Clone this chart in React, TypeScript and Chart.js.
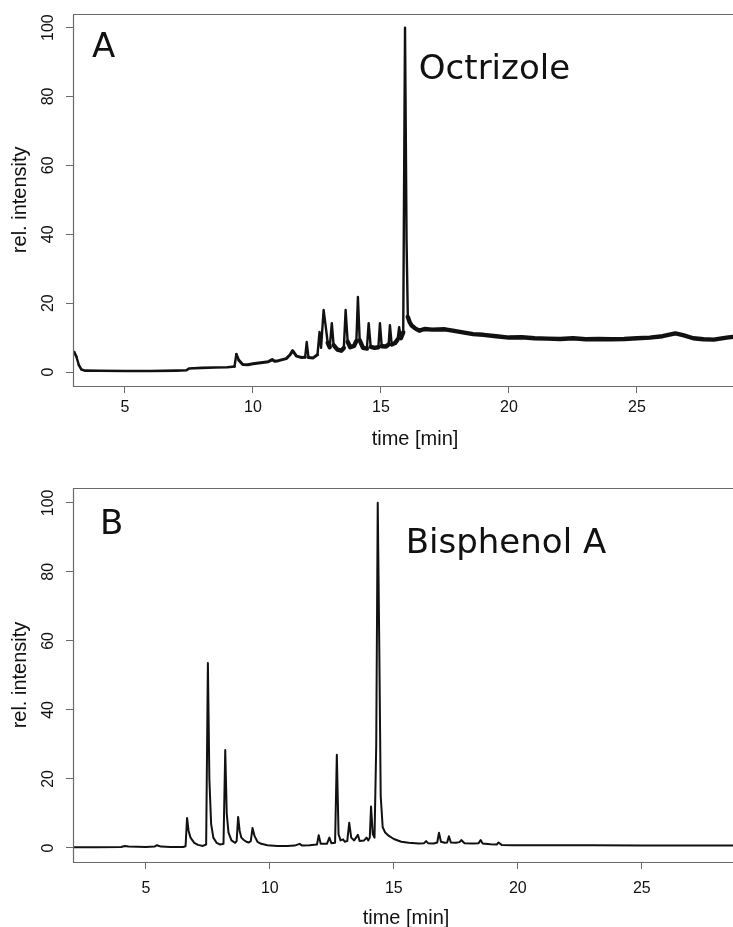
import React, { useEffect, useRef } from "react";
import { Chart, registerables } from "chart.js";
Chart.register(...registerables);

// ---------- data ----------
const timeA = [
  2.97, 3.02, 3.1, 3.2, 3.3, 3.45, 4.0, 5.0, 6.0, 7.0, 7.4, 7.5, 7.7, 8.0, 8.5, 9.0, 9.28,
  9.35, 9.45, 9.6, 9.8, 10.0, 10.3, 10.6, 10.75, 10.85, 11.0, 11.3, 11.45, 11.55, 11.7, 11.9,
  12.04, 12.1, 12.17, 12.35, 12.52, 12.6, 12.66, 12.76, 12.83, 12.92, 13.0, 13.08, 13.15,
  13.3, 13.45, 13.55, 13.62, 13.7, 13.8, 13.95, 14.04, 14.1, 14.17, 14.3, 14.45, 14.52, 14.6,
  14.75, 14.9, 14.96, 15.03, 15.2, 15.3, 15.35, 15.42, 15.55, 15.65, 15.71, 15.78, 15.87,
  15.94, 16.0, 16.05, 16.12, 16.2, 16.35, 16.5, 16.7, 17.0, 17.5, 17.8, 18.2, 18.6, 19.0,
  19.5, 20.0, 20.5, 21.0, 21.5, 22.0, 22.5, 23.0, 23.5, 24.0, 24.5, 25.0, 25.5, 26.0, 26.5,
  26.8, 27.2, 27.6, 28.0, 28.5, 28.75, 29.7,
];
const intensityA = [
  5.0, 5.8, 4.5, 2.0, 0.7, 0.4, 0.35, 0.3, 0.3, 0.4, 0.5, 1.0, 1.1, 1.2, 1.3, 1.4, 1.6,
  5.2, 3.4, 2.2, 2.1, 2.4, 2.7, 3.0, 3.6, 3.1, 3.3, 3.9, 5.0, 6.2, 4.6, 4.2,
  4.3, 8.7, 4.2, 4.1, 5.0, 11.6, 7.0, 18.0, 14.0, 8.5, 7.2, 14.2, 7.8,
  6.5, 6.2, 7.0, 18.0, 8.8, 7.2, 7.6, 9.0, 21.8, 9.2, 7.0, 6.8, 14.2, 7.3,
  7.0, 7.2, 14.2, 7.5, 7.4, 8.0, 13.6, 8.0, 8.4, 9.4, 13.0, 9.8, 11.5,
  100, 38, 16, 14.5, 13.5, 12.6, 12.0, 12.5, 12.3, 12.4, 12.0, 11.5, 11.0, 10.8,
  10.4, 10.0, 10.1, 9.8, 9.7, 9.6, 9.8, 9.5, 9.6, 9.5, 9.6, 9.8, 10.0, 10.4, 11.2,
  10.7, 9.8, 9.5, 9.4, 10.0, 10.2, 10.5,
];

const timeB = [
  2.06, 3.0, 4.0, 4.15, 4.3, 5.0, 5.35, 5.45, 5.6, 6.0, 6.5, 6.6, 6.66, 6.72, 6.8, 6.95, 7.1,
  7.3, 7.43, 7.5, 7.56, 7.63, 7.72, 7.85, 8.0, 8.13, 8.2, 8.26, 8.33, 8.45, 8.6, 8.66, 8.72,
  8.78, 8.85, 8.95, 9.05, 9.15, 9.23, 9.3, 9.38, 9.5, 9.65, 9.9, 10.3, 10.7, 11.0, 11.2,
  11.3, 11.6, 11.9, 11.97, 12.05, 12.3, 12.4, 12.48, 12.63, 12.7, 12.77, 12.85, 12.95, 13.02,
  13.12, 13.2, 13.28, 13.4, 13.55, 13.62, 13.8, 13.9, 13.97, 14.03, 14.08, 14.15, 14.22,
  14.29, 14.35, 14.41, 14.47, 14.55, 14.65, 14.8, 15.0, 15.3, 15.6, 16.0, 16.22, 16.3, 16.38,
  16.6, 16.75, 16.82, 16.9, 17.05, 17.15, 17.22, 17.3, 17.5, 17.65, 17.72, 17.85, 18.2,
  18.42, 18.5, 18.58, 18.9, 19.15, 19.22, 19.35, 19.8, 21.0, 23.0, 25.0, 27.0, 29.0,
];
const intensityB = [
  0.2, 0.2, 0.3, 0.6, 0.4, 0.3, 0.4, 0.8, 0.4, 0.3, 0.3, 0.5, 8.7, 5.0, 3.0, 1.5, 0.9,
  0.6, 1.0, 53.6, 20.0, 7.0, 3.0, 1.5, 1.0, 1.2, 28.4, 10.0, 4.5, 2.2, 1.5, 2.0, 9.0,
  5.0, 3.0, 2.3, 1.8, 1.6, 2.0, 5.8, 3.5, 1.8, 1.2, 0.8, 0.6, 0.6, 0.7, 1.2,
  0.7, 0.8, 1.0, 3.7, 1.2, 1.2, 3.0, 1.4, 1.5, 27.0, 4.0, 2.2, 2.5, 1.8,
  2.0, 7.3, 3.0, 2.2, 3.8, 2.0, 2.2, 3.0, 2.2, 3.0, 12.0, 4.0, 3.0,
  30.0, 100, 60.0, 15.0, 6.0, 4.5, 3.5, 2.6, 1.8, 1.5, 1.3, 1.4, 2.0, 1.4,
  1.3, 1.6, 4.4, 1.8, 1.5, 1.6, 3.4, 1.6, 1.5, 1.7, 2.3, 1.4, 1.3,
  1.4, 2.3, 1.3, 1.1, 1.0, 1.6, 0.9, 0.8, 0.8, 0.8, 0.7, 0.7, 0.7,
];

const xTickValues = [5, 10, 15, 20, 25];
const yTickValues = [0, 20, 40, 60, 80, 100];
const panelLetters = ["A", "B"];
const compoundNames = ["Octrizole", "Bisphenol A"];
const xTitle = "time [min]";
const yTitle = "rel. intensity";

// ---------- layout / style per panel ----------
type Panel = {
  time: number[];
  values: number[];
  letter: string;
  name: string;
  top: number;
  boxH: number;
  canvasW: number;
  canvasH: number;
  xMin: number;
  xMax: number;
  yMin: number;
  yMax: number;
  padTop: number;
  xAxisH: number;
  xTickPad: number;
  xTitlePad: number;
  letterAt: [number, number];
  nameAt: [number, number];
  thick: boolean;
};

const panels: Panel[] = [
  {
    time: timeA, values: intensityA, letter: panelLetters[0], name: compoundNames[0],
    top: 0, boxH: 460, canvasW: 757, canvasH: 460,
    xMin: 2.97, xMax: 29.69, yMin: -4.06, yMax: 104.06,
    padTop: 13, xAxisH: 74, xTickPad: 5, xTitlePad: 9,
    letterAt: [3.71, 91.6], nameAt: [16.48, 85.2], thick: true,
  },
  {
    time: timeB, values: intensityB, letter: panelLetters[1], name: compoundNames[1],
    top: 460, boxH: 467, canvasW: 739, canvasH: 480,
    xMin: 2.06, xMax: 28.92, yMin: -4.06, yMax: 104.3,
    padTop: 28, xAxisH: 78, xTickPad: 10, xTitlePad: 10,
    letterAt: [3.15, 91.0], nameAt: [15.48, 85.5], thick: false,
  },
];

function PanelChart({ p }: { p: Panel }) {
  const ref = useRef<HTMLCanvasElement | null>(null);
  useEffect(() => {
    const canvas = ref.current;
    if (!canvas) return;
    const boxPlugin = {
      id: "boxAndLabels",
      afterDraw(chart: any) {
        const { ctx, chartArea, scales } = chart;
        ctx.save();
        ctx.strokeStyle = "#6a6a6a";
        ctx.lineWidth = 1.2;
        const l = Math.round(chartArea.left) + 0.5;
        const t = Math.round(chartArea.top) + 0.5;
        const b = Math.round(chartArea.bottom) + 0.5;
        const r = Math.round(chartArea.right) - 0.5;
        ctx.beginPath();
        ctx.moveTo(r, t);
        ctx.lineTo(l, t);
        ctx.lineTo(l, b);
        ctx.lineTo(r, b);
        ctx.lineTo(r, t);
        ctx.stroke();
        ctx.fillStyle = "#111";
        ctx.font = '34px "DejaVu Sans"';
        ctx.textBaseline = "alphabetic";
        ctx.textAlign = "left";
        ctx.fillText(p.letter, scales.x.getPixelForValue(p.letterAt[0]), scales.y.getPixelForValue(p.letterAt[1]));
        ctx.fillText(p.name, scales.x.getPixelForValue(p.nameAt[0]), scales.y.getPixelForValue(p.nameAt[1]));
        ctx.restore();
      },
    };
    const chart = new Chart(canvas, {
      type: "line",
      data: {
        datasets: [
          {
            data: p.time.map((t, i) => ({ x: t, y: p.values[i] })),
            borderColor: "#111",
            borderWidth: p.thick ? 4 : 2,
            pointRadius: 0,
            tension: 0,
            borderJoinStyle: "round",
            borderCapStyle: "round",
            fill: false,
            segment: p.thick
              ? {
                  borderWidth: (c: any) => {
                    const dx = Math.abs(c.p1.x - c.p0.x);
                    const dy = Math.abs(c.p1.y - c.p0.y);
                    if (dy > 8 && dy > 2.5 * dx) return 2.4;
                    const t0 = c.p0.parsed.x;
                    if (t0 >= 12.4) return 4.4;
                    if (t0 >= 9.4) return 3;
                    return 2.6;
                  },
                }
              : undefined,
          } as any,
        ],
      },
      options: {
        responsive: false,
        animation: false,
        devicePixelRatio: 1,
        layout: { padding: { top: p.padTop, left: 0, right: 0, bottom: 0 } },
        plugins: { legend: { display: false }, tooltip: { enabled: false }, title: { display: false } },
        scales: {
          x: {
            type: "linear",
            min: p.xMin,
            max: p.xMax,
            afterBuildTicks: (s: any) => {
              s.ticks = xTickValues.map((v) => ({ value: v }));
            },
            afterFit: (s: any) => {
              s.height = p.xAxisH;
            },
            border: { display: false },
            grid: { display: true, drawOnChartArea: false, drawTicks: true, tickLength: 7, color: "#6a6a6a", tickColor: "#6a6a6a", lineWidth: 1 },
            ticks: {
              padding: p.xTickPad,
              color: "#111",
              font: { family: '"Liberation Sans", Arial, sans-serif', size: 16 },
              maxRotation: 0,
              minRotation: 0,
              callback: (v: any) => String(v),
            },
            title: {
              display: true,
              text: xTitle,
              color: "#111",
              font: { family: '"Liberation Sans", Arial, sans-serif', size: 20 },
              padding: { top: 0, bottom: p.xTitlePad },
            },
          },
          y: {
            type: "linear",
            min: p.yMin,
            max: p.yMax,
            afterBuildTicks: (s: any) => {
              s.ticks = yTickValues.map((v) => ({ value: v }));
            },
            afterFit: (s: any) => {
              s.width = 73;
            },
            border: { display: false },
            grid: { display: true, drawOnChartArea: false, drawTicks: true, tickLength: 7, color: "#6a6a6a", tickColor: "#6a6a6a", lineWidth: 1 },
            ticks: {
              padding: 4,
              color: "#111",
              crossAlign: "center",
              minRotation: 90,
              maxRotation: 90,
              font: { family: '"Liberation Sans", Arial, sans-serif', size: 16 },
              callback: (v: any) => String(v),
            },
            title: {
              display: true,
              text: yTitle,
              color: "#111",
              font: { family: '"Liberation Sans", Arial, sans-serif', size: 20 },
              padding: { top: 8, bottom: 0 },
            },
          },
        },
      } as any,
      plugins: [boxPlugin],
    });
    return () => chart.destroy();
  }, [p]);
  return (
    <div style={{ position: "absolute", left: 0, top: p.top, width: 733, height: p.boxH, overflow: "hidden", background: "#fff" }}>
      <canvas ref={ref} width={p.canvasW} height={p.canvasH} style={{ display: "block", width: p.canvasW, height: p.canvasH }} />
    </div>
  );
}

export default function App() {
  useEffect(() => {
    document.body.style.margin = "0";
    document.body.style.overflow = "hidden";
    document.documentElement.style.overflow = "hidden";
    document.body.style.background = "#fff";
  }, []);
  return (
    <div style={{ position: "relative", width: 733, height: 927, overflow: "hidden", background: "#fff" }}>
      {panels.map((p, i) => (
        <PanelChart key={i} p={p} />
      ))}
    </div>
  );
}
